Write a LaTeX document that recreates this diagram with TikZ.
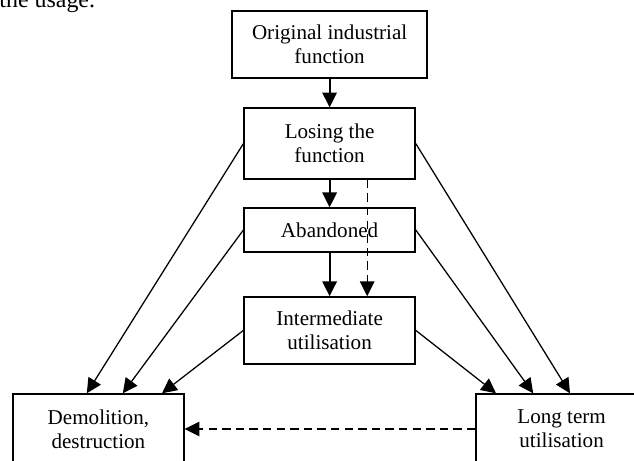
\documentclass[tikz,border=0pt]{standalone}
\usepackage{fontspec}
\setmainfont{Liberation Serif}
\usetikzlibrary{calc,arrows.meta}

\begin{document}
\begin{tikzpicture}[
    font=\fontsize{15}{17}\selectfont,
    box/.style={draw,line width=1pt,align=center,inner sep=0pt,minimum width=4.275cm},
    tip/.style={-{Triangle[length=0.37cm,width=0.36cm]}},
    dashline/.style={dash pattern=on 0.21cm off 0.13cm}]
  \useasboundingbox (0,0) rectangle (15.85,-11.525);
  \node[anchor=base east,font=\fontsize{17}{20}\selectfont] (usage) at (2.5,-0.18) {the usage.};
  \node[box,minimum width=4.875cm,minimum height=1.675cm] (B1) at (8.24,-1.11) {
    Original industrial\\function};
  \node[box,minimum height=1.775cm] (B2) at (8.24,-3.59) {
    Losing the\\function};
  \node[box,minimum height=1.1cm] (B3) at (8.24,-5.75) {
    Abandoned};
  \node[box,minimum height=1.675cm] (B4) at (8.24,-8.26) {
    Intermediate\\utilisation};
  %%
  \node[box,minimum height=1.75cm] (D) at (2.46,-10.725) {
    Demolition,\\destruction};
  \node[box,minimum height=1.75cm] (L) at (14.04,-10.725) {
    Long term\\utilisation};
  \path[tip,line width=1.4pt] (B1) edge (B2) (B2) edge (B3) (B3) edge (B4);
  \draw[tip,line width=1pt,dashline] ($(B2.south)+(0.94,0)$) -- ($(B4.north)+(0.94,0)$);
  \path[tip,line width=0.9pt] (B2.west) edge ($(D.north)+(-0.29,0)$)
    (B3.west) edge ($(D.north)+(0.61,0)$) (B4.west) edge ($(D.north)+(1.59,0)$);
  \path[tip,line width=0.9pt] (B2.east) edge ($(L.north)+(0.21,0)$)
    (B3.east) edge ($(L.north)+(-0.71,0)$) (B4.east) edge ($(L.north)+(-1.64,0)$);
  \draw[tip,line width=1pt,dashline] (L.west) -- (D.east);
\end{tikzpicture}
\end{document}
